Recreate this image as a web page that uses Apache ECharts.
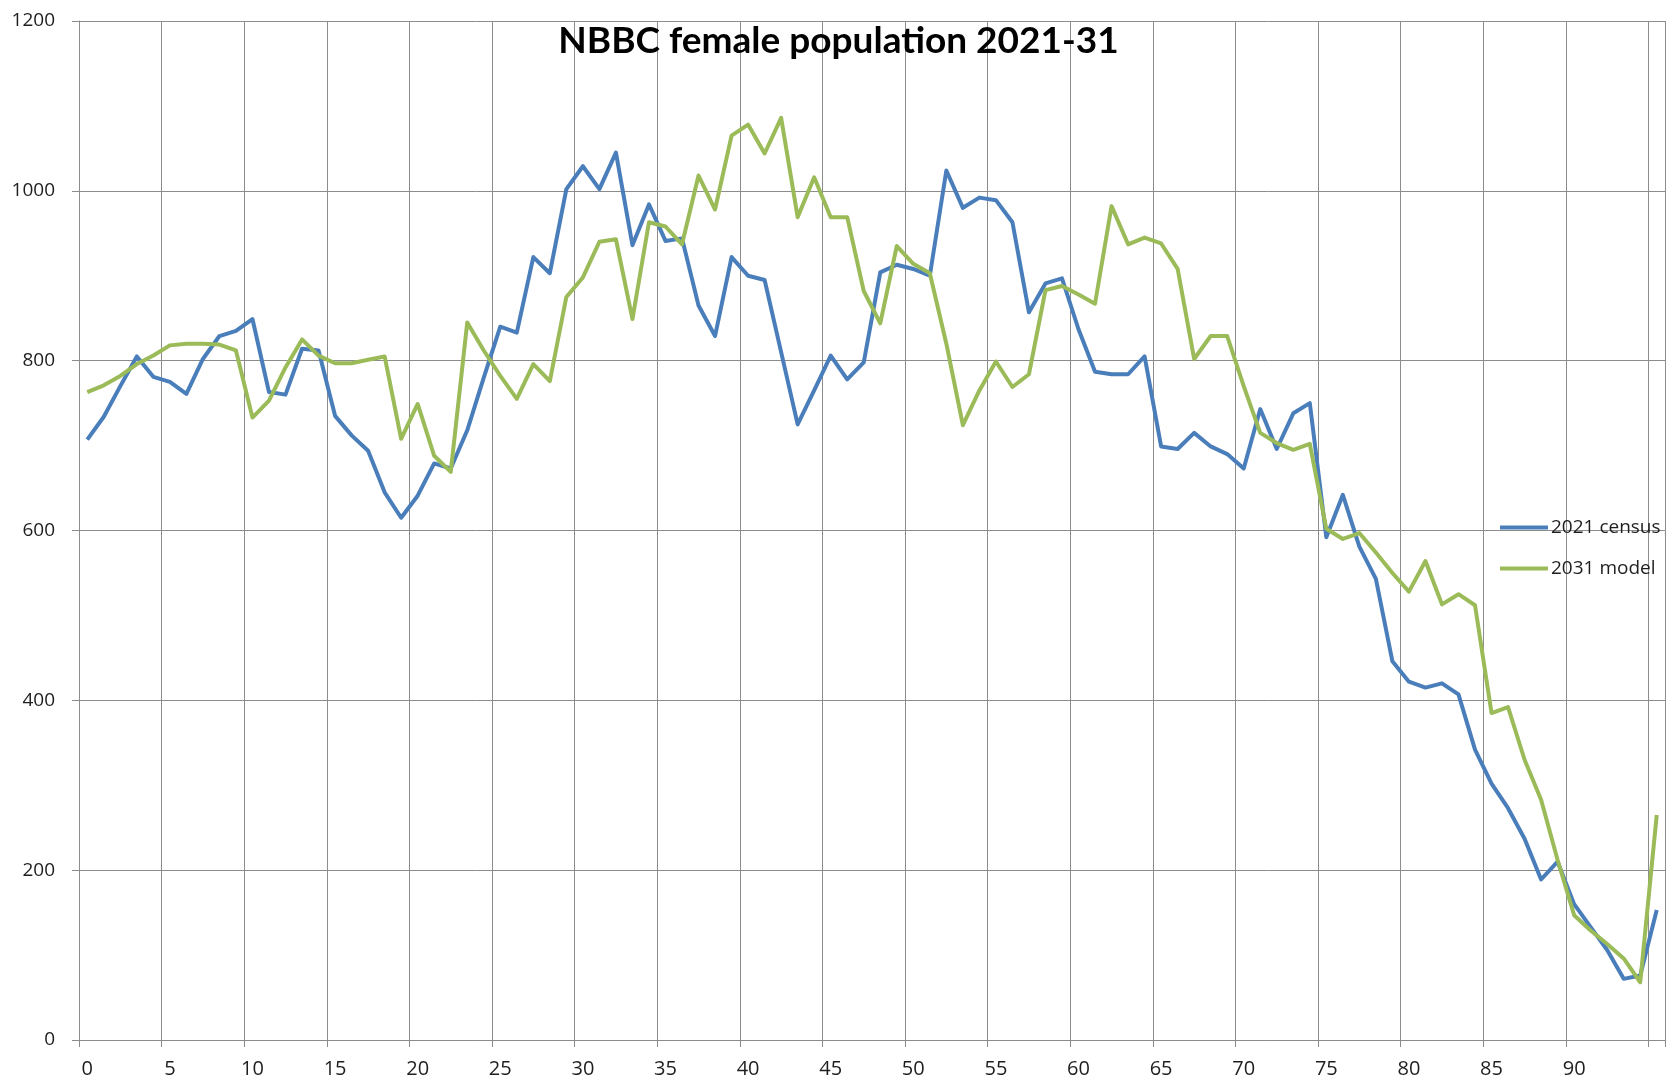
<!DOCTYPE html>
<html>
<head>
<meta charset="utf-8">
<title>NBBC female population 2021-31</title>
<script src="https://cdn.jsdelivr.net/npm/echarts@6/dist/echarts.min.js"></script>
<style>
  html, body { margin: 0; padding: 0; background: #fff; }
  #chart { width: 1677px; height: 1086px; }
</style>
</head>
<body>
<div id="chart"></div>
<script>
// Single-year ages 0..95
const ages = [
  0, 1, 2, 3, 4, 5, 6, 7, 8, 9,
  10, 11, 12, 13, 14, 15, 16, 17, 18, 19,
  20, 21, 22, 23, 24, 25, 26, 27, 28, 29,
  30, 31, 32, 33, 34, 35, 36, 37, 38, 39,
  40, 41, 42, 43, 44, 45, 46, 47, 48, 49,
  50, 51, 52, 53, 54, 55, 56, 57, 58, 59,
  60, 61, 62, 63, 64, 65, 66, 67, 68, 69,
  70, 71, 72, 73, 74, 75, 76, 77, 78, 79,
  80, 81, 82, 83, 84, 85, 86, 87, 88, 89,
  90, 91, 92, 93, 94, 95
];

// Ages that carry a label on the horizontal axis
const ageTickLabels = ['0', '5', '10', '15', '20', '25', '30', '35', '40', '45',
  '50', '55', '60', '65', '70', '75', '80', '85', '90'];

// Females by single year of age, 2021 census
const census2021 = [
  707, 734, 770, 805, 781, 775, 761, 802, 829, 835,
  849, 763, 760, 814, 812, 735, 712, 694, 645, 615,
  641, 679, 673, 718, 780, 840, 833, 922, 903, 1002,
  1029, 1002, 1045, 936, 984, 941, 944, 865, 829, 922,
  900, 895, 810, 725, 765, 806, 778, 798, 904, 913,
  908, 900, 1024, 980, 992, 989, 963, 857, 891, 897,
  837, 787, 784, 784, 805, 699, 696, 715, 699, 690,
  673, 743, 696, 738, 750, 592, 642, 581, 543, 446,
  422, 415, 420, 407, 342, 302, 273, 237, 189, 210,
  160, 133, 106, 72, 76, 153
];

// Females by single year of age, 2031 projection
const model2031 = [
  763, 771, 782, 796, 806, 818, 820, 820, 819, 812,
  733, 753, 792, 825, 806, 797, 797, 801, 805, 708,
  749, 688, 669, 845, 812, 782, 755, 796, 776, 875,
  898, 940, 943, 849, 963, 958, 937, 1018, 978, 1065,
  1078, 1044, 1086, 969, 1016, 969, 969, 882, 844, 935,
  914, 903, 820, 724, 765, 799, 769, 784, 883, 888,
  878, 867, 982, 937, 945, 938, 908, 802, 829, 829,
  770, 715, 703, 695, 702, 602, 590, 597, 574, 550,
  528, 564, 513, 525, 512, 385, 392, 330, 283, 212,
  147, 129, 113, 96, 68, 265
];

const seriesNames = ['2021 census', '2031 model'];
const seriesColors = ['#4a7ebb', '#9bbb59'];

const gridColor = '#8c8c8c';
const textColor = '#1e1e1e';
const fontFamily = '"Open Sans", "Noto Sans", sans-serif';

const chart = echarts.init(document.getElementById('chart'), null, { renderer: 'canvas' });

chart.setOption({
  animation: false,
  backgroundColor: '#ffffff',
  title: {
    text: 'NBBC female population 2021-31',
    left: 'center',
    top: 18,
    textStyle: {
      fontFamily: 'Lato, "Open Sans", sans-serif',
      fontWeight: 'bold',
      fontSize: 37,
      color: '#000'
    }
  },
  legend: {
    orient: 'vertical',
    left: 1495,
    top: 513,
    itemGap: 22,
    itemWidth: 48,
    itemHeight: 4,
    icon: 'rect',
    textStyle: { fontFamily: fontFamily, fontSize: 19, color: textColor, padding: [0, 0, 0, -2] },
    data: seriesNames
  },
  grid: { left: 79, right: 12, top: 21, bottom: 46, containLabel: false },
  xAxis: {
    type: 'category',
    data: ages.map(String),
    boundaryGap: true,
    axisLine: { show: true, lineStyle: { color: gridColor, width: 1 } },
    axisTick: { show: true, interval: 4, length: 7, lineStyle: { color: gridColor } },
    axisLabel: {
      interval: 0,
      margin: 19,
      fontFamily: fontFamily,
      fontSize: 20,
      color: textColor,
      formatter: function (v) { return ageTickLabels.indexOf(v) >= 0 ? v : ''; }
    },
    splitLine: { show: true, interval: 4, lineStyle: { color: gridColor, width: 1 } }
  },
  yAxis: {
    type: 'value',
    min: 0,
    max: 1200,
    interval: 200,
    axisLine: { show: true, lineStyle: { color: gridColor, width: 1 } },
    axisTick: { show: true, length: 7, lineStyle: { color: gridColor } },
    axisLabel: {
      margin: 24,
      fontFamily: fontFamily,
      fontSize: 19,
      color: textColor,
      formatter: function (v) { return String(v); }
    },
    splitLine: { show: true, lineStyle: { color: gridColor, width: 1 } }
  },
  series: [
    {
      name: seriesNames[0],
      type: 'line',
      data: census2021,
      symbol: 'none',
      color: seriesColors[0],
      lineStyle: { width: 4, color: seriesColors[0], join: 'round' },
      z: 2
    },
    {
      name: seriesNames[1],
      type: 'line',
      data: model2031,
      symbol: 'none',
      color: seriesColors[1],
      lineStyle: { width: 4, color: seriesColors[1], join: 'round' },
      z: 3
    }
  ]
});
</script>
</body>
</html>
